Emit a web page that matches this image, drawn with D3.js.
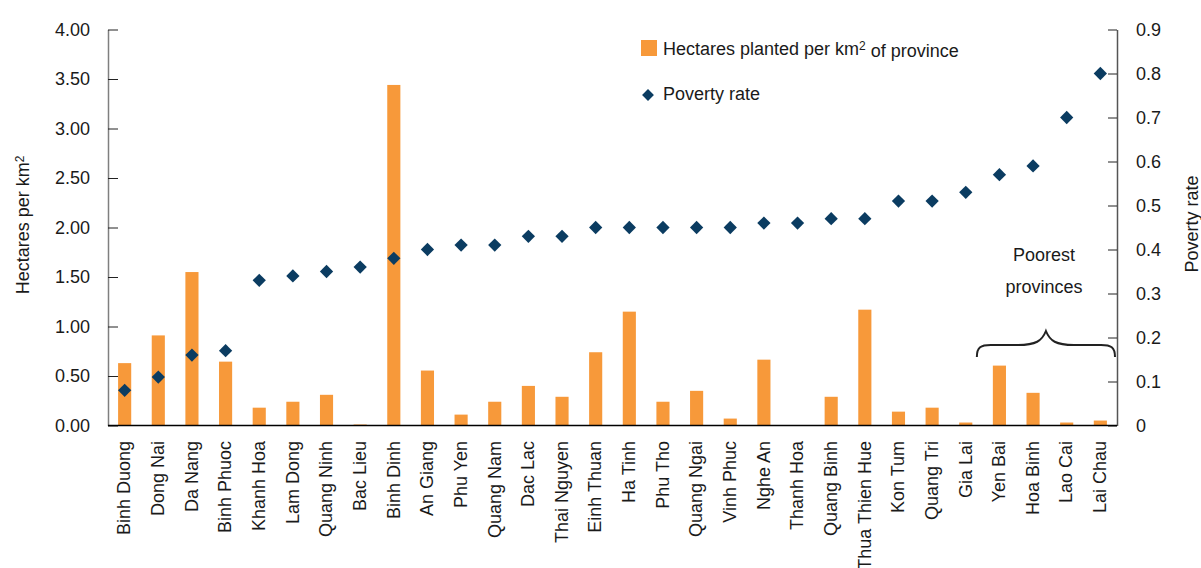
<!DOCTYPE html>
<html>
<head>
<meta charset="utf-8">
<script src="https://cdn.jsdelivr.net/npm/d3@7"></script>
<style>
  body { margin: 0; background: #fff; }
  svg { display: block; font-family: "Liberation Sans", Arial, sans-serif; }
  .tick text { font-size: 18px; fill: #1a1a1a; }
</style>
</head>
<body>
<div id="chart"></div>
<script>
var provinces = ["Binh Duong", "Dong Nai", "Da Nang", "Binh Phuoc", "Khanh Hoa", "Lam Dong", "Quang Ninh",
    "Bac Lieu", "Binh Dinh", "An Giang", "Phu Yen", "Quang Nam", "Dac Lac", "Thai Nguyen", "Einh Thuan",
    "Ha Tinh", "Phu Tho", "Quang Ngai", "Vinh Phuc", "Nghe An", "Thanh Hoa", "Quang Binh", "Thua Thien Hue",
    "Kon Tum", "Quang Tri", "Gia Lai", "Yen Bai", "Hoa Binh", "Lao Cai", "Lai Chau"];

var hectares = [0.63, 0.91, 1.55, 0.645, 0.18, 0.24, 0.31, 0.01, 3.44, 0.555, 0.11, 0.24, 0.40, 0.29, 0.74,
    1.15, 0.24, 0.35, 0.07, 0.665, 0, 0.29, 1.17, 0.14, 0.18, 0.03, 0.605, 0.33, 0.03, 0.05];

var poverty = [0.08, 0.11, 0.16, 0.17, 0.33, 0.34, 0.35, 0.36, 0.38, 0.40, 0.41, 0.41, 0.43, 0.43, 0.45,
    0.45, 0.45, 0.45, 0.45, 0.46, 0.46, 0.47, 0.47, 0.51, 0.51, 0.53, 0.57, 0.59, 0.70, 0.80];

var leftTicks = [0, 0.5, 1, 1.5, 2, 2.5, 3, 3.5, 4];
var rightTicks = [0, 0.1, 0.2, 0.3, 0.4, 0.5, 0.6, 0.7, 0.8, 0.9];
var poorest = ["Yen Bai", "Lai Chau"];

var orange = "#f7993a", navy = "#0b3c61";

var svg = d3.select("#chart").append("svg")
    .attr("width", 1201)
    .attr("height", 568);

var margin = {top: 29.5, right: 84, bottom: 142.5, left: 108},
    width = 1201 - margin.left - margin.right,
    height = 568 - margin.top - margin.bottom,
    g = svg.append("g").attr("transform", "translate(" + margin.left + "," + margin.top + ")");

var x = d3.scaleBand()
    .domain(provinces)
    .range([0, width])
    .paddingInner(0.61)
    .paddingOuter(0.3);

var y = d3.scaleLinear().domain([0, 4]).range([height, 0]);
var y2 = d3.scaleLinear().domain([0, 0.9]).range([height, 0]);

// bars
g.selectAll(".bar")
    .data(provinces)
    .enter().append("rect")
    .attr("class", "bar")
    .attr("x", function (d) { return x(d); })
    .attr("y", function (d, i) { return y(hectares[i]); })
    .attr("width", x.bandwidth())
    .attr("height", function (d, i) { return height - y(hectares[i]); })
    .attr("fill", orange);

// diamonds
var diamond = d3.symbol().type(d3.symbolSquare).size(88);
g.selectAll(".pt")
    .data(provinces)
    .enter().append("path")
    .attr("class", "pt")
    .attr("d", diamond)
    .attr("transform", function (d, i) {
        return "translate(" + (x(d) + x.bandwidth() / 2) + "," + y2(poverty[i]) + ") rotate(45)";
    })
    .attr("fill", navy);

// left axis
var yAxis = g.append("g")
    .call(d3.axisLeft(y).tickValues(leftTicks).tickFormat(d3.format(".2f")).tickSizeInner(-10).tickSizeOuter(0).tickPadding(18));
yAxis.select(".domain").attr("stroke", "#7f7f7f").attr("stroke-width", 1.5);
yAxis.selectAll(".tick line").attr("stroke", "#222");

// right axis
var y2Axis = g.append("g")
    .attr("transform", "translate(" + width + ",0)")
    .call(d3.axisRight(y2).tickValues(rightTicks).tickFormat(function (d) { return d === 0 ? "0" : d3.format(".1f")(d); })
        .tickSizeInner(-9).tickSizeOuter(0).tickPadding(19));
y2Axis.select(".domain").attr("stroke", "#555").attr("stroke-width", 1.5);
y2Axis.selectAll(".tick line").attr("stroke", "#222");

// bottom axis line and labels
g.append("line")
    .attr("x1", 0).attr("x2", width)
    .attr("y1", height).attr("y2", height)
    .attr("stroke", "#000").attr("stroke-width", 1.5);

g.selectAll(".xlabel")
    .data(provinces)
    .enter().append("text")
    .attr("class", "xlabel")
    .attr("transform", function (d) {
        return "translate(" + (x(d) + x.bandwidth() / 2) + "," + (height + 15.5) + ") rotate(-90)";
    })
    .attr("dy", "0.32em")
    .attr("text-anchor", "end")
    .style("font-size", "18px")
    .attr("fill", "#1a1a1a")
    .text(function (d) { return d; });

// axis titles
var lt = svg.append("text")
    .attr("transform", "translate(29,225) rotate(-90)")
    .attr("text-anchor", "middle")
    .style("font-size", "18px")
    .attr("fill", "#1a1a1a");
lt.append("tspan").text("Hectares per km");
lt.append("tspan").attr("dy", "-0.4em").style("font-size", "12px").text("2");

svg.append("text")
    .attr("transform", "translate(1198,224) rotate(-90)")
    .attr("text-anchor", "middle")
    .style("font-size", "18px")
    .attr("fill", "#1a1a1a")
    .text("Poverty rate");

// legend
var legend = svg.append("g").style("font-size", "18px").attr("fill", "#1a1a1a");
legend.append("rect")
    .attr("x", 641).attr("y", 40)
    .attr("width", 16).attr("height", 16)
    .attr("fill", orange);
var lt1 = legend.append("text").attr("x", 663).attr("y", 55);
lt1.append("tspan").text("Hectares planted per km");
lt1.append("tspan").attr("dy", "-0.4em").style("font-size", "12px").text("2");
lt1.append("tspan").attr("dy", "0.4em").text(" of province");

legend.append("path")
    .attr("d", d3.symbol().type(d3.symbolSquare).size(70))
    .attr("transform", "translate(648,95) rotate(45)")
    .attr("fill", navy);
legend.append("text").attr("x", 663).attr("y", 99.5).text("Poverty rate");

// brace over poorest provinces
var bx0 = x(poorest[0]) - 16,
    bx1 = width - 2,
    bm = (bx0 + bx1) / 2,
    by = 345 - margin.top;
g.append("path")
    .attr("d", "M" + bx0 + "," + (by + 12) +
        " C" + bx0 + "," + (by + 2) + " " + (bx0 + 4) + "," + by + " " + (bx0 + 14) + "," + by +
        " L" + (bm - 28) + "," + by +
        " C" + (bm - 10) + "," + by + " " + (bm - 4) + "," + (by - 4) + " " + bm + "," + (by - 14) +
        " C" + (bm + 4) + "," + (by - 4) + " " + (bm + 10) + "," + by + " " + (bm + 28) + "," + by +
        " L" + (bx1 - 14) + "," + by +
        " C" + (bx1 - 4) + "," + by + " " + bx1 + "," + (by + 2) + " " + bx1 + "," + (by + 12))
    .attr("fill", "none")
    .attr("stroke", "#222")
    .attr("stroke-width", 2);

g.append("text")
    .attr("x", bm - 2).attr("y", 261 - margin.top)
    .attr("text-anchor", "middle")
    .style("font-size", "18px").attr("fill", "#1a1a1a")
    .text("Poorest");
g.append("text")
    .attr("x", bm - 2).attr("y", 293 - margin.top)
    .attr("text-anchor", "middle")
    .style("font-size", "18px").attr("fill", "#1a1a1a")
    .text("provinces");
</script>
</body>
</html>
